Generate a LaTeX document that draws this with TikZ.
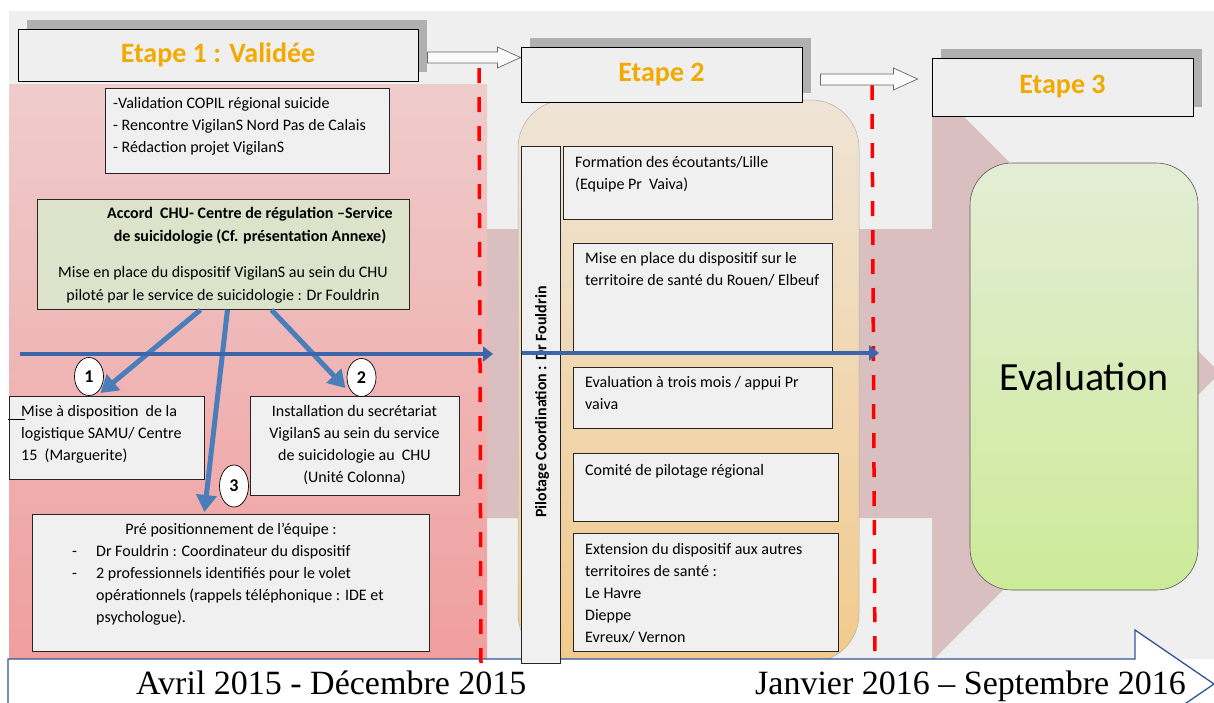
\documentclass[tikz,border=0pt]{standalone}
\usepackage{fontspec}
\setmainfont{Carlito}
\newfontfamily\timesf{Liberation Serif}
\usetikzlibrary{arrows.meta,shapes.geometric,shadows}

\definecolor{bggray}{HTML}{EFEFEF}
\definecolor{boxgray}{HTML}{F0F0F0}
\definecolor{shadowgray}{HTML}{B0B0B0}
\definecolor{pinktop}{HTML}{EFCCCC}
\definecolor{pinkbot}{HTML}{F09E9E}
\definecolor{bandpink}{HTML}{D9BFBF}
\definecolor{peachtop}{HTML}{EFE4D6}
\definecolor{peachbot}{HTML}{F2CA8C}
\definecolor{accordgreen}{HTML}{DDE2CB}
\definecolor{evaltop}{HTML}{E3EDD5}
\definecolor{evalbot}{HTML}{CCEB98}
\definecolor{etapeorange}{HTML}{F2A900}
\definecolor{arrowblue}{HTML}{4A7EBB}
\definecolor{timeblue}{HTML}{3D66AA}
\definecolor{lineblue}{HTML}{2F5597}

\begin{document}
\begin{tikzpicture}[x=1pt,y=-1pt,
    etapebox/.style={draw=black, line width=1pt, fill=bggray, inner sep=0pt,
      general shadow={fill=shadowgray, shadow xshift=9pt, shadow yshift=9pt},
      text=etapeorange, font=\fontsize{28}{28}\selectfont\bfseries},
    hollowarr/.style={draw=gray!80!black, fill=white!96!gray, line width=0.7pt},
    txtbox/.style={draw=black!85, line width=0.9pt, fill=boxgray, anchor=north west, inner sep=0pt},
    bodytxt/.style={anchor=north west, align=left, inner sep=0pt, font=\fontsize{16}{22}\selectfont},
    numoval/.style={ellipse, draw=black, line width=0.7pt, fill=white, inner sep=0pt,
      minimum width=29pt, minimum height=38pt, font=\fontsize{18}{18}\selectfont\bfseries},
    bluearr/.style={line width=5pt, draw=arrowblue, -{Triangle[length=17pt,width=20pt]}},
    timearr/.style={line width=4pt, draw=timeblue, -{Triangle[length=10pt,width=15pt]}},
    reddash/.style={draw=red, line width=3.5pt, dash pattern=on 15pt off 14pt},
    datetxt/.style={anchor=base west, inner sep=0pt, font=\timesf\fontsize{34}{34}\selectfont}
  ]
   \useasboundingbox (0,0) rectangle (1214,702);
   \clip (0,0) rectangle (1214,702);
   \fill[white] (0,0) rectangle (1214,702);
   \fill[bggray] (9,11) rectangle (1214,659);

   \fill[bandpink] (480,229) -- (932,229) -- (932,85) -- (1220,373) -- (932,661) -- (932,518) -- (480,518) -- cycle;
   \shade[top color=pinktop, bottom color=pinkbot] (9,84) rectangle (487,660);
   \shade[top color=peachtop, bottom color=peachbot, draw=gray!60, line width=0.5pt, rounded corners=48pt] (518,100) rectangle (859,662);

   \draw[lineblue, line width=1.3pt, fill=white] (8,659) -- (1135,659) -- (1135,630) -- (1214,684) -- (1135,738) -- (1135,712) -- (8,712) -- cycle;

   \draw[reddash] (479,68) -- (481,664);
   \draw[reddash] (872,85) -- (875,664);

   \node[etapebox, minimum width=400pt, minimum height=52pt] (etape1) at (218,55) {Etape 1 : Validée};
   \node[etapebox, minimum width=281pt, minimum height=55pt] (etape2) at (661.5,74.5) {Etape 2};
   \node[etapebox, minimum width=261pt, minimum height=58pt] (etape3) at (1062.5,87) {Etape 3};
   \draw[hollowarr] (etape1.east) ++(9,-3) -- ++(70,0) -- ++(0,-5) -- ++(23,10.5) -- ++(-23,10.5) -- ++(0,-5) -- ++(-70,0) -- cycle;
   \draw[hollowarr] (etape2.east) ++(18,-0.5) -- ++(73,0) -- ++(0,-6) -- ++(24,11) -- ++(-24,11) -- ++(0,-5) -- ++(-73,0) -- cycle;

   \node[draw=gray!70!black, line width=0.6pt, top color=evaltop, bottom color=evalbot, rounded corners=42pt,
     minimum width=228pt, minimum height=427pt, font=\fontsize{40}{40}\selectfont] (evaluation) at (1084,376.5) {Evaluation};

   \node[txtbox, minimum width=284pt, minimum height=85pt] (copil) at (105,88) {};
   \node[bodytxt] (copilT) at (113,97) {-Validation COPIL régional suicide\\- Rencontre VigilanS Nord Pas de Calais\\- Rédaction projet VigilanS};

   \node[txtbox, fill=accordgreen, minimum width=372pt, minimum height=110pt] (accord) at (37,199) {};
   \node[anchor=north, align=center, inner sep=0pt, font=\fontsize{16}{23}\selectfont\bfseries] (accordT) at (250,207) {Accord\ \ CHU- Centre de régulation –Service\\de suicidologie (Cf. présentation Annexe)};
   \node[anchor=north, align=center, inner sep=0pt, font=\fontsize{16}{23}\selectfont] (accordM) at (223,266) {Mise en place du dispositif VigilanS au sein du CHU\\piloté par le service de suicidologie : Dr Fouldrin};

   \node[txtbox, minimum width=195pt, minimum height=83pt] (samu) at (9,396) {};
   \node[bodytxt] (samuT) at (21,405) {Mise à disposition\ \ de la\\logistique SAMU/ Centre\\15\ \ (Marguerite)};
   \draw[line width=0.8pt] (8,419) -- (25,419);

   \node[txtbox, minimum width=209pt, minimum height=99pt] (secretariat) at (250,396) {};
   \node[anchor=north, align=center, inner sep=0pt, font=\fontsize{16}{22}\selectfont] (secretariatT) at (354.5,405) {Installation du secrétariat\\VigilanS au sein du service\\de suicidologie au\ \ CHU\\(Unité Colonna)};

   \node[txtbox, minimum width=397pt, minimum height=137pt] (equipe) at (32,514) {};
   \node[anchor=north, inner sep=0pt, font=\fontsize{16}{22}\selectfont] (equipeT) at (231,523) {Pré positionnement de l’équipe :};
   \node[bodytxt] (equipeL) at (72,545) {\makebox[24pt][l]{-}Dr Fouldrin : Coordinateur du dispositif\\\makebox[24pt][l]{-}2 professionnels identifiés pour le volet\\\hspace*{24pt}opérationnels (rappels téléphonique : IDE et\\\hspace*{24pt}psychologue).};

   \node[numoval] (n1) at (89,376.5) {1};
   \node[numoval] (n2) at (361.5,377.5) {2};
   \node[numoval, minimum height=42pt] (n3) at (234,486) {3};

   \draw[bluearr] ([xshift=-23pt]accord.south) -- ([xshift=-6.5pt,yshift=3pt]samu.north);
   \draw[bluearr] ([xshift=4pt]accord.south) -- ([xshift=-26.5pt,yshift=2pt]equipe.north);
   \draw[bluearr] ([xshift=48pt]accord.south) -- ([xshift=-9.5pt,yshift=8pt]secretariat.north);

   \node[txtbox, minimum width=269pt, minimum height=73pt] (formation) at (563,146) {};
   \node[bodytxt] (formationT) at (575,156) {Formation des écoutants/Lille\\(Equipe Pr\ \ Vaiva)};
   \node[txtbox, minimum width=259pt, minimum height=109pt] (rouen) at (573,243) {};
   \node[bodytxt] (rouenT) at (585,252) {Mise en place du dispositif sur le\\territoire de santé du Rouen/ Elbeuf};
   \node[txtbox, minimum width=259pt, minimum height=61pt] (troismois) at (573,367) {};
   \node[bodytxt] (troismoisT) at (585,376) {Evaluation à trois mois / appui Pr\\vaiva};
   \node[txtbox, minimum width=265pt, minimum height=68pt] (comite) at (573,453) {};
   \node[bodytxt] (comiteT) at (585,464) {Comité de pilotage régional};
   \node[txtbox, minimum width=265pt, minimum height=118pt] (extension) at (573,533) {};
   \node[bodytxt] (extensionT) at (585,543) {Extension du dispositif aux autres\\territoires de santé :\\Le Havre\\Dieppe\\Evreux/ Vernon};

   \node[txtbox, minimum width=39pt, minimum height=517pt] (pilotage) at (521,146) {};
   \node[rotate=90, inner sep=0pt, font=\fontsize{16}{16}\selectfont\bfseries] (pilotageT) at (542,402) {Pilotage Coordination : Dr Fouldrin};

   \coordinate (t1start) at (20,354);
   \coordinate (t1end) at (493,354);
   \coordinate (t2start) at (522,353);
   \coordinate (t2end) at (879,353);
   \draw[timearr] (t1start) -- (t1end);
   \draw[timearr] (t2start) -- (t2end);

   \node[datetxt] (periode1) at (136,694) {Avril 2015 - Décembre 2015};
   \node[datetxt] (periode2) at (755,694) {Janvier 2016 – Septembre 2016};
\end{tikzpicture}
\end{document}
